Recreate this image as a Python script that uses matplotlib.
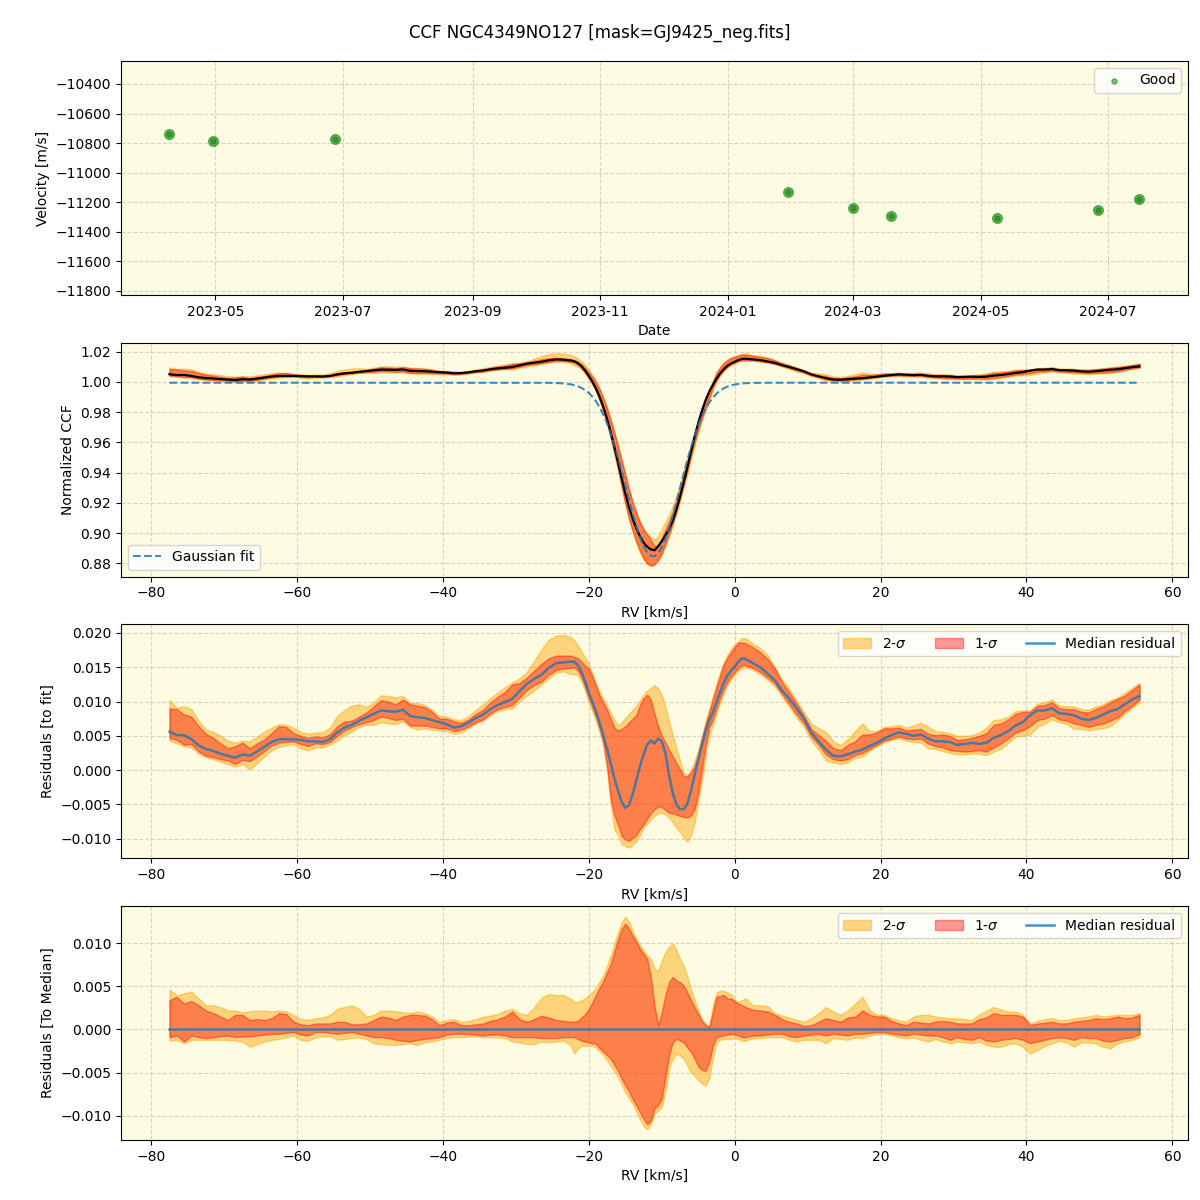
import numpy as np
import matplotlib
matplotlib.use("Agg")
import matplotlib.pyplot as plt
import matplotlib.dates as mdates

# ---- RV time series (top panel) ----
obs_dates = np.array(["2023-04-09", "2023-04-30", "2023-06-27", "2024-01-30", "2024-03-01",
                      "2024-03-19", "2024-05-09", "2024-06-26", "2024-07-16"], dtype="datetime64[D]")
rv_good = np.array([-10741, -10788, -10775, -11134, -11242, -11296, -11310, -11256, -11181])

# ---- RV grid of the CCF (km/s) ----
rv_left = np.arange(-77.5, -22.0, 1.0)
rv_dip = np.arange(-22.0, 2.0, 0.5)
rv_right = np.arange(2.5, 56.0, 1.0)

# Gaussian fit parameters
fit_base = 0.9995
fit_depth = 0.115
fit_center = -11.2
fit_sigma = 3.7

# median residual to fit (units of 1e-4)
res_med_left = [56, 51, 51, 45, 36, 31, 28, 24, 21, 18,
                23, 21, 27, 34, 41, 45, 45, 45, 44, 42,
                42, 41, 45, 55, 62, 66, 72, 77, 82, 87,
                86, 85, 88, 79, 77, 76, 73, 70, 67, 62,
                64, 69, 76, 81, 89, 95, 99, 104, 115, 126,
                133, 139, 149, 156, 157, 158]
res_med_dip = [158, 153, 143, 129, 113, 99, 85, 68, 50, 31,
               10, -12, -30, -46, -55, -51, -36, -15, 5, 23,
               37, 43, 39, 46, 42, 25, -8, -33, -50, -57,
               -57, -49, -30, -8, 15, 36, 56, 72, 84, 99,
               114, 127, 138, 145, 151, 158, 163, 162]
res_med_right = [156, 150, 141, 131, 116, 104, 90, 75, 55, 42,
                 30, 21, 20, 23, 27, 30, 35, 40, 46, 51,
                 55, 53, 50, 52, 46, 42, 42, 41, 37, 38,
                 40, 38, 40, 47, 51, 57, 65, 70, 80, 87,
                 87, 90, 83, 82, 80, 75, 73, 76, 81, 86,
                 89, 96, 103, 108]

# percentile bands relative to the median CCF (units of 1e-4)
off_u2_left = [46, 40, 42, 44, 36, 28, 28, 26, 22, 22,
               20, 21, 22, 22, 21, 22, 21, 17, 12, 11,
               13, 14, 17, 24, 26, 28, 24, 15, 17, 22,
               22, 21, 20, 19, 21, 19, 15, 9, 11, 12,
               9, 10, 12, 15, 16, 18, 22, 24, 19, 17,
               26, 37, 41, 40, 40, 36]
off_u1_left = [34, 38, 30, 33, 28, 22, 19, 15, 11, 17,
               17, 11, 12, 11, 13, 19, 18, 9, 6, 5,
               7, 7, 7, 9, 9, 6, 6, 7, 11, 15,
               14, 11, 15, 17, 17, 16, 12, 5, 8, 9,
               5, 5, 6, 7, 10, 12, 15, 21, 12, 9,
               12, 16, 14, 11, 10, 9]
off_l1_left = [-9, -7, -14, -7, -9, -10, -9, -8, -7, -9,
               -8, -8, -7, -6, -5, -5, -4, -3, -6, -7,
               -3, -3, -4, -5, -4, -3, -5, -7, -9, -9,
               -10, -12, -13, -14, -12, -11, -10, -9, -6, -5,
               -5, -5, -6, -7, -6, -6, -7, -9, -9, -9,
               -9, -10, -10, -10, -9, -9]
off_l2_left = [-13, -12, -16, -12, -12, -12, -12, -12, -12, -13,
               -14, -20, -17, -14, -12, -11, -9, -7, -12, -13,
               -9, -8, -8, -12, -11, -10, -9, -11, -16, -17,
               -18, -18, -17, -16, -18, -15, -14, -12, -10, -9,
               -9, -8, -8, -9, -9, -9, -10, -14, -15, -17,
               -17, -14, -15, -14, -13, -18]

off_u2_dip = [32, 32, 34, 36, 40, 44, 49, 56, 63, 74,
              86, 100, 113, 124, 131, 125, 115, 106, 98, 92,
              86, 82, 71, 67, 80, 90, 96, 100, 92, 82,
              74, 61, 47, 34, 22, 12, 7, 3, 28, 43,
              45, 45, 43, 41, 34, 32, 34, 36]
off_u1_dip = [9, 10, 14, 18, 24, 32, 41, 49, 57, 67,
              76, 91, 105, 117, 123, 117, 109, 102, 94, 88,
              82, 61, 28, 5, 20, 40, 55, 61, 57, 55,
              51, 43, 34, 26, 18, 10, 5, 3, 20, 38,
              39, 40, 36, 36, 33, 30, 28, 26]
off_l1_dip = [-9, -11, -13, -14, -15, -16, -17, -22, -26, -30,
              -34, -41, -48, -57, -65, -72, -81, -88, -96, -104,
              -110, -106, -92, -88, -80, -55, -30, -15, -11, -13,
              -15, -21, -26, -34, -43, -47, -48, -38, -19, -9,
              -8, -7, -6, -5, -6, -7, -9, -9]
off_l2_dip = [-28, -22, -19, -19, -19, -19, -21, -26, -30, -36,
              -42, -49, -55, -64, -73, -80, -86, -95, -104, -112,
              -116, -110, -98, -94, -90, -72, -45, -34, -28, -30,
              -34, -42, -50, -54, -59, -63, -65, -57, -34, -15,
              -12, -11, -11, -11, -10, -11, -13, -13]

off_u2_right = [28, 28, 27, 19, 16, 14, 11, 9, 13, 19,
                26, 21, 17, 22, 30, 38, 22, 17, 17, 13,
                11, 9, 15, 17, 17, 15, 14, 13, 13, 12,
                11, 17, 22, 26, 23, 21, 21, 17, 7, 10,
                12, 13, 11, 11, 13, 14, 15, 17, 15, 16,
                17, 17, 17, 19]
off_u1_right = [23, 22, 21, 17, 12, 9, 7, 4, 5, 9,
                13, 11, 9, 14, 15, 22, 17, 15, 15, 10,
                7, 5, 9, 8, 7, 9, 10, 9, 7, 7,
                7, 12, 14, 19, 17, 17, 17, 15, 5, 7,
                8, 9, 7, 7, 9, 10, 11, 13, 12, 13,
                15, 13, 14, 17]
off_l1_right = [-7, -7, -6, -5, -5, -8, -9, -7, -6, -5,
                -7, -5, -6, -7, -5, -5, -4, -3, -3, -5,
                -6, -7, -5, -6, -7, -7, -9, -12, -9, -11,
                -12, -9, -13, -14, -12, -11, -10, -12, -16, -14,
                -12, -10, -9, -10, -12, -9, -10, -10, -13, -14,
                -12, -10, -9, -5]
off_l2_right = [-10, -10, -9, -9, -9, -12, -14, -12, -12, -12,
                -16, -10, -11, -12, -9, -10, -7, -5, -5, -7,
                -9, -10, -9, -12, -14, -11, -14, -16, -14, -15,
                -16, -14, -18, -20, -20, -17, -16, -20, -28, -24,
                -19, -16, -13, -15, -20, -15, -15, -16, -20, -22,
                -16, -14, -12, -9]

# residual-to-fit bands inside the line core (units of 1e-4, absolute)
fit_u2_dip = [189, 182, 173, 164, 155, 141, 126, 114, 104, 94,
              83, 74, 65, 70, 76, 82, 88, 94, 102, 110,
              116, 120, 124, 119, 109, 92, 70, 51, 32, 14,
              -4, -7, 0, 14, 30, 50, 70, 89, 108, 126,
              143, 158, 168, 177, 183, 188, 193, 192]
fit_u1_dip = [165, 163, 158, 152, 148, 136, 122, 108, 98, 88,
              75, 62, 58, 60, 64, 70, 75, 80, 95, 105,
              110, 103, 82, 64, 50, 40, 30, 20, 10, 1,
              -9, -9, -3, 6, 24, 46, 67, 85, 103, 121,
              138, 154, 164, 172, 180, 186, 186, 185]
fit_l1_dip = [150, 145, 135, 121, 105, 91, 77, 60, 40, 6,
              -42, -66, -80, -96, -101, -103, -99, -95, -86, -79,
              -71, -63, -57, -53, -54, -58, -62, -63, -65, -67,
              -68, -69, -66, -57, -33, 1, 36, 62, 74, 90,
              105, 118, 129, 137, 143, 149, 153, 153]
fit_l2_dip = [140, 138, 129, 115, 99, 85, 71, 54, 34, 0,
              -50, -86, -95, -108, -111, -113, -109, -104, -95, -84,
              -78, -72, -67, -63, -62, -65, -69, -76, -84, -90,
              -98, -104, -95, -77, -45, -18, 20, 50, 66, 82,
              98, 112, 124, 132, 139, 145, 149, 150]

BG = "#fdfbe1"


def join(a, b, c):
    return np.concatenate([a, b, c]) * 1e-4


rv = np.concatenate([rv_left, rv_dip, rv_right])
res_med = join(res_med_left, res_med_dip, res_med_right)
off_u2 = join(off_u2_left, off_u2_dip, off_u2_right)
off_u1 = join(off_u1_left, off_u1_dip, off_u1_right)
off_l1 = join(off_l1_left, off_l1_dip, off_l1_right)
off_l2 = join(off_l2_left, off_l2_dip, off_l2_right)

fit = fit_base - fit_depth * np.exp(-0.5 * ((rv - fit_center) / fit_sigma) ** 2)
ccf_med = fit + res_med

dip = slice(len(rv_left), len(rv_left) + len(rv_dip))
res_u2 = res_med + off_u2
res_u1 = res_med + off_u1
res_l1 = res_med + off_l1
res_l2 = res_med + off_l2
res_u2[dip] = np.array(fit_u2_dip) * 1e-4
res_u1[dip] = np.array(fit_u1_dip) * 1e-4
res_l1[dip] = np.array(fit_l1_dip) * 1e-4
res_l2[dip] = np.array(fit_l2_dip) * 1e-4

fig, axes = plt.subplots(4, 1, figsize=(12, 12))
fig.subplots_adjust(left=0.1008, right=0.99, top=0.9492, bottom=0.05, hspace=0.204)
fig.suptitle("CCF NGC4349NO127 [mask=GJ9425_neg.fits]", fontsize=12)

for ax in axes:
    ax.set_facecolor(BG)
    ax.grid(True, linestyle="--", alpha=0.5)
    ax.set_axisbelow(True)

# top: RV vs time
ax = axes[0]
dates = obs_dates.astype("datetime64[ms]").astype(object)
ax.plot(dates, rv_good, "o", color="green", alpha=0.55, ms=7)
ax.scatter(dates, rv_good, s=14, color="green", alpha=0.5, label="Good", zorder=3)
ax.set_ylim(-11829, -10244)
ax.set_yticks(np.arange(-11800, -10399, 200))
ax.xaxis.set_major_locator(mdates.MonthLocator(bymonth=(1, 3, 5, 7, 9, 11)))
ax.xaxis.set_major_formatter(mdates.DateFormatter("%Y-%m"))
ax.set_xlabel("Date")
ax.set_ylabel("Velocity [m/s]")
ax.legend(loc="upper right")

# CCF
ax = axes[1]
ax.fill_between(rv, ccf_med + off_l2, ccf_med + off_u2, color="orange", alpha=0.45)
ax.fill_between(rv, ccf_med + off_l1, ccf_med + off_u1, color="red", alpha=0.4)
ax.plot(rv, ccf_med, color="black", lw=1.6)
ax.plot(rv, fit, "--", color="C0", alpha=0.85, lw=1.5, label="Gaussian fit")
ax.set_xlabel("RV [km/s]")
ax.set_ylabel("Normalized CCF")
ax.legend(loc="lower left")

# residuals to fit
ax = axes[2]
ax.fill_between(rv, res_l2, res_u2, color="orange", alpha=0.45, label="2-$\\sigma$")
ax.fill_between(rv, res_l1, res_u1, color="red", alpha=0.4, label="1-$\\sigma$")
ax.plot(rv, res_med, color="C0", alpha=0.8, lw=1.8, label="Median residual")
ax.set_xlabel("RV [km/s]")
ax.set_ylabel("Residuals [to fit]")
ax.legend(loc="upper right", ncol=3)

# residuals to median
ax = axes[3]
ax.fill_between(rv, off_l2, off_u2, color="orange", alpha=0.45, label="2-$\\sigma$")
ax.fill_between(rv, off_l1, off_u1, color="red", alpha=0.4, label="1-$\\sigma$")
ax.plot(rv, np.zeros_like(rv), color="C0", alpha=0.8, lw=1.8, label="Median residual")
ax.set_xlabel("RV [km/s]")
ax.set_ylabel("Residuals [To Median]")
ax.legend(loc="upper right", ncol=3)

for ax in axes[1:]:
    ax.set_xticks(np.arange(-80, 61, 20))

fig.savefig("out.png", dpi=100)
